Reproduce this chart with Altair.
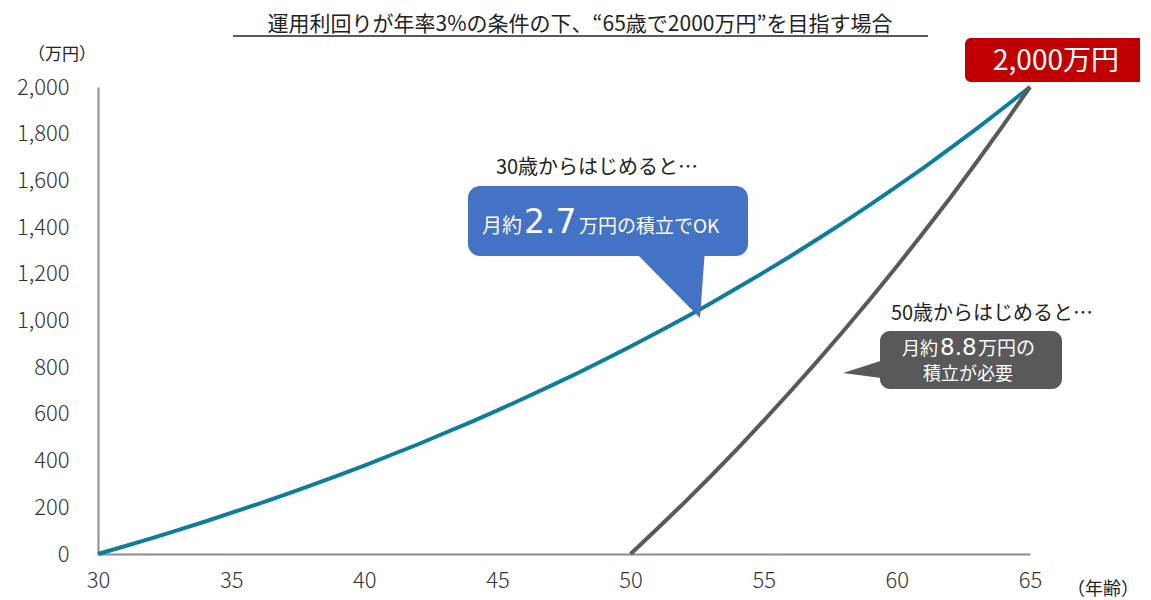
import altair as alt
import pandas as pd

ages_30 = list(range(30, 66))
values_30 = [0, 33, 67, 102, 138, 176, 214, 253, 294, 336, 379, 424, 469, 517, 565,
             615, 667, 720, 774, 831, 889, 949, 1010, 1073, 1139, 1206, 1275, 1347,
             1420, 1496, 1574, 1654, 1737, 1822, 1910, 2000]
ages_50 = list(range(50, 66))
values_50 = [0, 108, 218, 332, 449, 571, 696, 824, 956, 1092, 1232, 1377, 1525,
             1679, 1837, 2000]
series_names = ["30歳から", "50歳から"]
series_colors = ["#0E7C9B", "#595959"]
y_ticks = list(range(0, 2001, 200))
x_ticks = [30, 35, 40, 45, 50, 55, 60, 65]

df = pd.DataFrame({
    "age": ages_30 + ages_50,
    "value": values_30 + values_50,
    "series": [series_names[0]] * len(ages_30) + [series_names[1]] * len(ages_50),
})

FONT = "Noto Sans CJK JP"
NUMFONT = "DejaVu Sans"
one = pd.DataFrame({"a": [0]})

lines = alt.Chart(df).mark_line(strokeWidth=4).encode(
    x=alt.X("age:Q", scale=alt.Scale(domain=[30, 65], nice=False),
            axis=alt.Axis(values=x_ticks, title=None, grid=False, ticks=False,
                          labelFontSize=22, labelFontWeight=300, labelColor="#333",
                          labelPadding=16, labelFlush=False, labelOverlap=False,
                          domainColor="#8c8c8c", domainWidth=2, labelFont=FONT)),
    y=alt.Y("value:Q", scale=alt.Scale(domain=[0, 2000], nice=False),
            axis=alt.Axis(values=y_ticks, title=None, grid=False, ticks=False,
                          format=",.0f", labelFontSize=22, labelFontWeight=300,
                          labelColor="#333", labelPadding=29, labelOverlap=False,
                          domainColor="#8c8c8c", domainWidth=2,
                          labelFont=FONT)),
    color=alt.Color("series:N", scale=alt.Scale(domain=series_names, range=series_colors),
                    legend=None),
    detail="series:N",
)


def txt(s, x, y, size, color="#222", align="center", baseline="middle", font=FONT):
    return alt.Chart(one).mark_text(text=s, fontSize=size, font=font, color=color,
                                    align=align, baseline=baseline).encode(
        x=alt.value(x), y=alt.value(y))


def box(x, x2, y, y2, color, r):
    return alt.Chart(one).mark_rect(color=color, cornerRadius=r).encode(
        x=alt.value(x), x2=alt.value(x2), y=alt.value(y), y2=alt.value(y2))


def tri(path, x, y, size, color):
    return alt.Chart(one).mark_point(shape=path, size=size, filled=True, color=color,
                                     opacity=1, strokeWidth=0).encode(
        x=alt.value(x), y=alt.value(y))


title = txt("運用利回りが年率3%の条件の下、“65歳で2000万円”を目指す場合", 482, -62, 21)
underline = alt.Chart(one).mark_rule(color="#222", strokeWidth=1.5).encode(
    x=alt.value(135), x2=alt.value(830), y=alt.value(-51))
unit_y = txt("（万円）", -36, -32, 17)
unit_x = txt("（年齢）", 1005, 503, 18)

red_box = box(867, 1047, -49, -5, "#C00000", 6)
red_txt = txt("2,000万円", 958, -25, 28, color="white")

blue_col = "#4472C4"
blue_box = box(370, 650, 99, 169, blue_col, 12)
blue_tail = tri("M-0.9,-0.9L0.925,-0.9L0.8,0.825Z", 570, 198, 6400, blue_col)
blue_head = txt("30歳からはじめると…", 499, 81, 20)
blue_t1 = txt("月約", 384, 146, 20, color="white", align="left", baseline="alphabetic")
blue_t2 = txt("2.7", 426, 146, 33, color="white", align="left", baseline="alphabetic",
              font=NUMFONT)
blue_t3 = txt("万円の積立でOK", 481, 146, 19, color="white", align="left", baseline="alphabetic")

gray_col = "#595959"
gray_box = box(782, 964, 244, 302, gray_col, 10)
gray_tail = tri("M1,-0.45L1,0.45L-1,0.19Z", 766, 282, 1764, gray_col)
gray_head = txt("50歳からはじめると…", 894, 227, 20)
gray_t1 = txt("月約", 804, 268, 18, color="white", align="left", baseline="alphabetic")
gray_t2 = txt("8.8", 842, 268, 23, color="white", align="left", baseline="alphabetic",
              font=NUMFONT)
gray_t3 = txt("万円の", 880, 268, 19, color="white", align="left", baseline="alphabetic")
gray_t4 = txt("積立が必要", 870, 293, 18, color="white", align="center", baseline="alphabetic")

chart = alt.layer(
    lines, title, underline, unit_y, unit_x, red_box, red_txt,
    blue_box, blue_tail, blue_head, blue_t1, blue_t2, blue_t3,
    gray_box, gray_tail, gray_head, gray_t1, gray_t2, gray_t3, gray_t4,
).properties(
    width=932, height=467,
    autosize=alt.AutoSizeParams(type="none"),
    padding={"left": 90, "top": 79, "right": 110, "bottom": 50},
).configure_view(stroke=None)

chart.save("out.html", embed_options={"renderer": "svg", "actions": False})
